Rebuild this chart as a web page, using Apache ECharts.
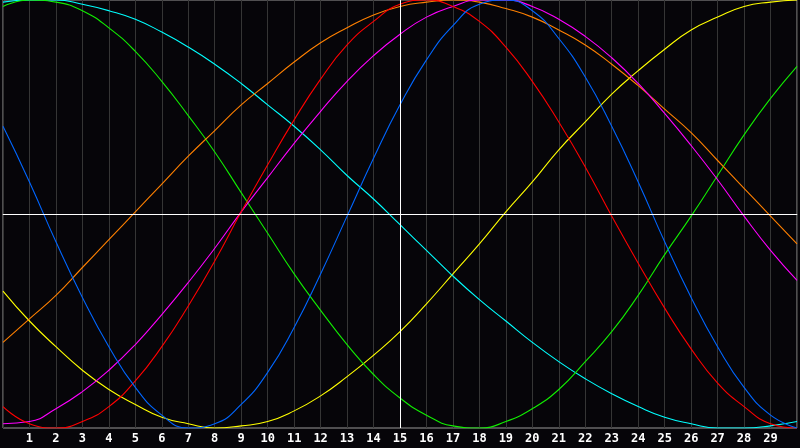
<!DOCTYPE html>
<html>
<head>
    <meta charset="utf-8">
    <title>Biorhythm</title>
    <script src="https://cdn.jsdelivr.net/npm/echarts@6/dist/echarts.min.js"></script>
    <style>
        html, body { margin: 0; padding: 0; background: #060509; }
    </style>
</head>
<body>
    <div id="chart" style="width: 800px;height:448px;"></div>
    <script type="text/javascript">
        // days along the bottom, 0..30
        var days = [0,1,2,3,4,5,6,7,8,9,10,11,12,13,14,15,16,17,18,19,20,21,22,23,24,25,26,27,28,29,30];
        // values, -100..100 per day
        var physical = [41,15,-13,-39,-62,-81,-94,-100,-98,-89,-74,-53,-28,-1,26,51,72,88,98,100,95,82,64,41,15,-13,-39,-62,-81,-94,-100];
        var emotional = [-90,-98,-100,-97,-90,-78,-62,-43,-22,1,23,44,63,79,90,98,100,97,90,78,62,43,22,-1,-23,-44,-63,-79,-90,-98,-100];
        var intellectual = [97,100,99,95,87,76,62,46,29,10,-9,-28,-45,-61,-75,-86,-94,-99,-100,-97,-91,-82,-69,-55,-38,-19,-1,18,37,54,69];
        var spiritual = [99,100,100,98,95,91,85,78,70,61,51,41,30,18,7,-5,-17,-29,-40,-50,-60,-69,-77,-84,-90,-95,-98,-100,-100,-99,-97];
        var awareness = [-60,-49,-38,-25,-12,1,14,27,39,51,61,71,80,87,93,97,99,100,99,96,92,86,79,70,60,49,38,25,12,-1,-14];
        var intuitive = [-98,-97,-91,-83,-73,-61,-47,-32,-16,1,17,33,48,62,74,84,92,97,100,100,97,91,83,73,61,47,32,16,-1,-17,-31];
        var aesthetic = [-36,-50,-62,-73,-82,-89,-95,-98,-100,-99,-97,-92,-85,-76,-66,-55,-42,-28,-14,1,15,30,43,56,67,77,86,92,97,99,100];

        var curves = [
            { name: 'aesthetic', values: aesthetic, color: '#ffff00' },
            { name: 'spiritual', values: spiritual, color: '#00ffff' },
            { name: 'intellectual', values: intellectual, color: '#11ee00' },
            { name: 'awareness', values: awareness, color: '#ff8000' },
            { name: 'intuitive', values: intuitive, color: '#ff00ff' },
            { name: 'emotional', values: emotional, color: '#ff0000' },
            { name: 'physical', values: physical, color: '#0066ff' }
        ];

        var chart = echarts.init(document.getElementById('chart'));

        var series = curves.map(function (c) {
            return {
                name: c.name,
                type: 'line',
                smooth: 0.5,
                showSymbol: false,
                lineStyle: { color: c.color, width: 1.1 },
                itemStyle: { color: c.color },
                data: days.map(function (d, i) { return [d, c.values[i]]; })
            };
        });

        // white cross through the middle (zero line and day 15)
        series[0].markLine = {
            silent: true,
            symbol: 'none',
            label: { show: false },
            lineStyle: { color: '#ffffff', width: 1, type: 'solid' },
            data: [{ yAxis: 0 }, { xAxis: 15 }]
        };

        var option = {
            backgroundColor: '#060509',
            animation: false,
            grid: {
                left: 0, right: 0, top: 0, bottom: 20,
                show: true,
                borderColor: '#999999',
                borderWidth: 1,
                backgroundColor: 'transparent'
            },
            xAxis: {
                type: 'value',
                min: 0,
                max: 30,
                interval: 1,
                axisLine: { show: true, lineStyle: { color: '#aaaaaa' } },
                axisTick: { show: false },
                splitLine: { show: true, lineStyle: { color: '#353535', width: 1 } },
                axisLabel: {
                    color: '#ffffff',
                    fontFamily: 'DejaVu Sans Mono',
                    fontWeight: 'bold',
                    fontSize: 12,
                    margin: 5,
                    formatter: function (v) { return (v === 0 || v === 30) ? '' : String(v); }
                }
            },
            yAxis: {
                type: 'value',
                min: -100,
                max: 100,
                show: false
            },
            series: series
        };
        chart.setOption(option);
    </script>
</body>
</html>
